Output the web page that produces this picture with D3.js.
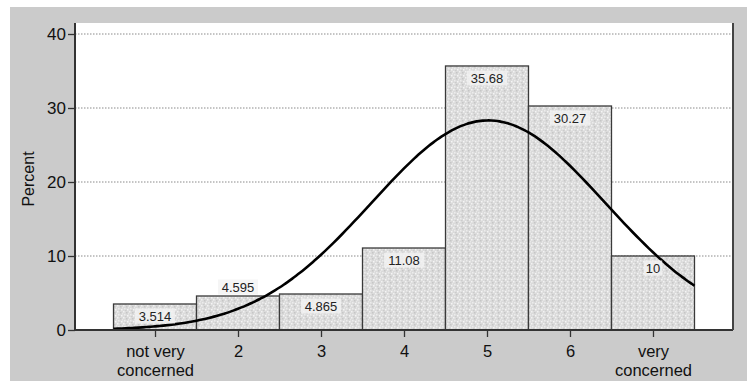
<!DOCTYPE html>
<html>
<head>
<meta charset="utf-8">
<script src="https://cdn.jsdelivr.net/npm/d3@7"></script>
<style>
  body { margin: 0; background: #fff; }
  svg { display: block; font-family: "Liberation Sans", Arial, sans-serif; }
</style>
</head>
<body>
<div id="chart"></div>
<script>
// category values 1..7 on the x axis
const categories = [1, 2, 3, 4, 5, 6, 7];
const tickLabels = [["not very", "concerned"], ["2"], ["3"], ["4"], ["5"], ["6"], ["very", "concerned"]];
const percents = [3.514, 4.595, 4.865, 11.08, 35.68, 30.27, 10];
const valueLabels = ["3.514", "4.595", "4.865", "11.08", "35.68", "30.27", "10"];
const yTicks = [0, 10, 20, 30, 40];

const W = 747, H = 381;
const margin = {top: 23, right: 14, bottom: 51, left: 75};
const w = W - margin.left - margin.right;
const h = H - margin.top - margin.bottom;

const svg = d3.select("#chart").append("svg")
    .attr("width", W)
    .attr("height", H);

// grey panel behind everything
svg.append("rect")
    .attr("x", 10).attr("y", 7)
    .attr("width", W - 10).attr("height", H - 7)
    .attr("fill", "#cbcbcb");

// speckled fill like the original bars
const defs = svg.append("defs");
const pat = defs.append("pattern")
    .attr("id", "speckle")
    .attr("patternUnits", "userSpaceOnUse")
    .attr("width", 6).attr("height", 6);
pat.append("rect").attr("width", 6).attr("height", 6).attr("fill", "#dadada");
[[0, 0, "#f2f2f2"], [3, 1, "#c6c6c6"], [1, 3, "#ececec"], [4, 4, "#f5f5f5"], [2, 5, "#cccccc"], [5, 2, "#e8e8e8"]]
    .forEach(([px, py, c]) => pat.append("rect").attr("x", px).attr("y", py)
        .attr("width", 1.5).attr("height", 1.5).attr("fill", c));

const g = svg.append("g")
    .attr("transform", `translate(${margin.left},${margin.top})`);

g.append("rect")
    .attr("width", w).attr("height", h)
    .attr("fill", "#fff");

// scales
const x = d3.scaleLinear()
    .domain([0.036, 7.964])
    .range([0, w]);

const y = d3.scaleLinear()
    .domain([0, 40])
    .range([h, h - 296]);

// grid lines
g.append("g")
    .selectAll("line")
    .data(yTicks.filter(d => d > 0))
    .join("line")
    .attr("x1", 0).attr("x2", w)
    .attr("y1", d => y(d)).attr("y2", d => y(d))
    .attr("stroke", "#8a8a8a")
    .attr("stroke-width", 1)
    .attr("stroke-dasharray", "1.5,1.5");

// bars
g.append("g")
    .selectAll("rect")
    .data(categories)
    .join("rect")
    .attr("x", d => x(d - 0.5))
    .attr("y", (d, i) => y(percents[i]))
    .attr("width", d => x(d + 0.5) - x(d - 0.5))
    .attr("height", (d, i) => h - y(percents[i]))
    .attr("fill", "url(#speckle)")
    .attr("stroke", "#3a3a3a")
    .attr("stroke-width", 1.3);

// normal curve fitted from the data
const total = d3.sum(percents);
const mean = d3.sum(categories, (c, i) => c * percents[i]) / total;
const sd = Math.sqrt(d3.sum(categories, (c, i) => (c - mean) ** 2 * percents[i]) / total);
const density = v => total / (sd * Math.sqrt(2 * Math.PI)) * Math.exp(-0.5 * ((v - mean) / sd) ** 2);
const curveX = d3.range(0.5, 7.5001, 0.05);

g.append("path")
    .datum(curveX)
    .attr("fill", "none")
    .attr("stroke", "#000")
    .attr("stroke-width", 2.6)
    .attr("d", d3.line().x(d => x(d)).y(d => y(density(d))).curve(d3.curveBasis));

// value labels, moved above the bar when the curve runs through them
const labels = g.append("g")
    .selectAll("g")
    .data(categories)
    .join("g")
    .attr("transform", (d, i) => {
        let ly = y(percents[i]) + 12;
        if (Math.abs(y(density(d)) - ly) < 7) ly = y(percents[i]) - 9;
        return `translate(${x(d)},${ly})`;
    });

labels.append("rect")
    .attr("x", (d, i) => -valueLabels[i].length * 3.6 - 2)
    .attr("y", -7.5)
    .attr("width", (d, i) => valueLabels[i].length * 7.2 + 4)
    .attr("height", 15)
    .attr("fill", "#f3f3f3")
    .attr("opacity", 0.8);

labels.append("text")
    .attr("text-anchor", "middle")
    .attr("dy", "0.36em")
    .attr("font-size", 13)
    .attr("fill", "#222")
    .text((d, i) => valueLabels[i]);

// axes
const yAxis = g.append("g")
    .call(d3.axisLeft(y).tickValues(yTicks).tickSize(7).tickPadding(2));
yAxis.select(".domain").remove();
yAxis.selectAll("line").attr("stroke", "#333").attr("stroke-width", 1.3);
yAxis.selectAll("text").attr("font-size", 17).attr("fill", "#111")
    .attr("font-family", "'Liberation Sans', Arial, sans-serif");

const xAxis = g.append("g")
    .attr("transform", `translate(0,${h})`)
    .call(d3.axisBottom(x).tickValues(categories).tickSize(7).tickFormat(""));
xAxis.select(".domain").remove();
xAxis.selectAll("line").attr("stroke", "#333").attr("stroke-width", 1.3);

xAxis.selectAll(".tick")
    .append("text")
    .attr("fill", "#111")
    .attr("font-size", 16.5)
    .attr("text-anchor", "middle")
    .attr("font-family", "'Liberation Sans', Arial, sans-serif")
    .selectAll("tspan")
    .data((d, i) => tickLabels[i])
    .join("tspan")
    .attr("x", 0)
    .attr("y", (d, i) => 27 + i * 19)
    .text(d => d);

// frame lines: left, bottom, right
g.append("line").attr("x1", 0).attr("x2", 0).attr("y1", 0).attr("y2", h)
    .attr("stroke", "#333").attr("stroke-width", 2);
g.append("line").attr("x1", 0).attr("x2", w).attr("y1", h).attr("y2", h)
    .attr("stroke", "#333").attr("stroke-width", 2);
g.append("line").attr("x1", w).attr("x2", w).attr("y1", 0).attr("y2", h)
    .attr("stroke", "#444").attr("stroke-width", 2);

// y title
svg.append("text")
    .attr("transform", `translate(34,${margin.top + 156}) rotate(-90)`)
    .attr("text-anchor", "middle")
    .attr("font-size", 16)
    .attr("fill", "#111")
    .text("Percent");
</script>
</body>
</html>
